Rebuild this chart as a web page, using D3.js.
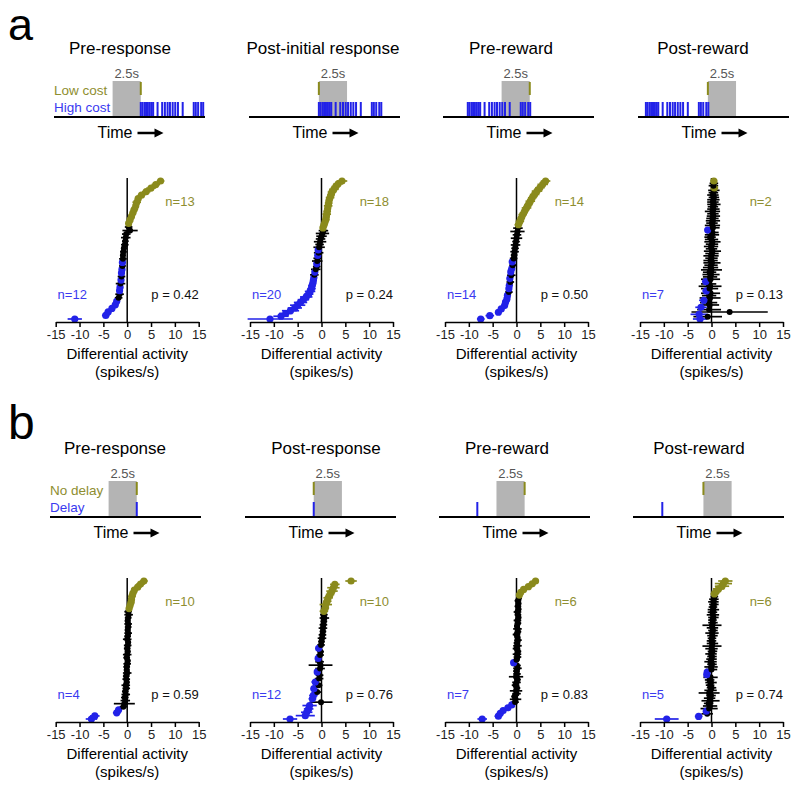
<!DOCTYPE html>
<html>
<head>
<meta charset="utf-8">
<script src="https://cdn.jsdelivr.net/npm/d3@7"></script>
<style>
  body { margin: 0; background: #fff; }
  svg { font-family: Arial, "Liberation Sans", sans-serif; }
</style>
</head>
<body>
<svg></svg>
<script>
var width = 800;
var height = 787;

var svg = d3.select('svg')
    .attr('width', width)
    .attr('height', height);

var OLIVE = '#8a8a1c';
var BLUE = '#2222e8';
var colorOf = { o: OLIVE, b: BLUE, k: '#000' };
var textColorOf = { o: '#8e8e30', b: '#3a3af0' };

// ---- data ----
var tickVals = [-15, -10, -5, 0, 5, 10, 15];
var tickLabels = ['-15', '-10', '-5', '0', '5', '10', '15'];

var titlesA = ['Pre-response', 'Post-initial response', 'Pre-reward', 'Post-reward'];
var titlesB = ['Pre-response', 'Post-response', 'Pre-reward', 'Post-reward'];
var legendA = ['Low cost', 'High cost'];
var legendB = ['No delay', 'Delay'];

var nOliveA = [13, 18, 14, 2];
var nBlueA = [12, 20, 14, 7];
var pA = ['0.42', '0.24', '0.50', '0.13'];
var nOliveB = [10, 10, 6, 6];
var nBlueB = [4, 12, 7, 5];
var pB = ['0.59', '0.76', '0.83', '0.74'];

// schematic timing (seconds), 2.5 s window before ('pre') or after ('post') the event
var epochSide = ['pre', 'post', 'pre', 'post'];
var eventA = [7.7, 6.2, 7.7, 6.2];
var trainStartA = [7.7, 6.2, 2.2, 0.7];
var spikePattern = [0, 0.15, 0.33, 0.47, 0.63, 0.8, 0.96, 1.1, 1.49, 1.9, 2.14, 2.38,
    2.59, 2.83, 3.06, 3.3, 3.72, 4.7, 4.88, 5.09, 5.36, 5.54];
var eventB = [7.7, 6.1, 7.6, 6.25];
var delaySpikeB = [7.7, 6.1, 3.4, 2.6];

// ranked neurons, bottom to top: value, error, class runs (b = blue, o = olive, k = n.s.)
var a1Vals = [-11, -4.5, -4.0, -3.2, -2.5, -2.2, -1.8, -1.6, -1.6, -1.5, -1.4, -1.3, -1.2, -1.2,
    -1.1, -1.0, -1.0, -0.9, -0.9, -0.8, -0.7, -0.5, -0.4, -0.3, -0.2, 0.6, 0.3,
    0.3, 0.6, 0.9, 1.2, 1.5, 1.8, 2.0, 2.3, 3.0, 4.0, 5.0, 6.0, 7.0];
var a1Err = [1.5, 0.8, 0.7, 0.6, 0.6, 0.5, 0.8, 0.9, 0.5, 0.5, 1.0, 0.5, 0.8, 0.5,
    0.4, 0.7, 0.4, 0.8, 0.6, 0.7, 0.6, 0.8, 0.7, 1.0, 0.9, 1.6, 0.8,
    0.5, 0.5, 0.6, 0.7, 0.8, 0.6, 0.9, 0.7, 0.8, 0.9, 1.0, 0.9, 0.8];
var a1Runs = [['b', 6], ['k', 2], ['b', 2], ['k', 1], ['b', 1], ['k', 1], ['b', 2], ['k', 1], ['b', 1],
    ['k', 10], ['o', 13]];

var a2Vals = [-10.8, -8.5, -7.5, -6.5, -5.6, -5.0, -4.4, -3.8, -3.2, -2.7, -2.4, -2.1, -2.0, -1.8, -1.7, -1.6,
    -1.5, -1.4, -1.2, -1.0, -1.0, -0.9, -0.8, -0.8, -0.6, -0.7, -0.5, -0.4, -0.3, -0.2, 0, 0.2, 0.4,
    0.3, 0.5, 0.7, 0.9, 1.0, 1.1, 1.2, 1.3, 1.4, 1.5, 1.6, 1.8, 2.0, 2.2, 2.6, 3.0, 3.5, 4.3];
var a2Err = [4.8, 1.6, 1.4, 1.8, 1.5, 1.6, 1.4, 1.2, 1.3, 1.0, 1.1, 0.9, 0.8, 0.7, 0.6, 0.6,
    0.9, 0.5, 1.0, 0.8, 0.5, 1.1, 0.9, 0.5, 1.0, 0.4, 1.2, 0.9, 1.3, 1.0, 1.1, 1.4, 1.0,
    0.6, 0.7, 0.6, 0.8, 0.7, 0.9, 0.8, 0.7, 0.9, 0.8, 0.7, 0.9, 0.8, 0.9, 1.0, 0.9, 1.0, 1.1];
var a2Runs = [['b', 16], ['k', 1], ['b', 1], ['k', 2], ['b', 1], ['k', 2], ['b', 1], ['k', 1], ['b', 1],
    ['k', 7], ['o', 18]];

var a3Vals = [-7.5, -5.6, -3.8, -3.2, -2.5, -2.3, -2.0, -1.9, -1.6, -1.6, -1.5, -1.3, -1.4, -1.1,
    -1.2, -1.0, -0.8, -0.9, -0.6, -0.5, -0.4, -0.3, -0.2, -0.1, 0, 0.1, 0.2, 0.3,
    0.4, 0.7, 1.0, 1.3, 1.7, 2.1, 2.5, 2.9, 3.3, 3.8, 4.3, 4.9, 5.5, 6.1];
var a3Err = [0.8, 0.9, 0.7, 0.6, 0.6, 0.5, 0.6, 0.5, 0.8, 0.5, 0.5, 0.8, 0.4, 0.9,
    0.5, 0.4, 0.7, 0.4, 0.8, 0.7, 0.9, 0.8, 1.0, 0.8, 1.2, 0.9, 1.5, 1.0,
    0.8, 0.9, 0.8, 0.9, 0.8, 1.0, 0.9, 1.0, 0.9, 1.0, 1.1, 1.0, 1.1, 1.0];
var a3Runs = [['b', 8], ['k', 1], ['b', 2], ['k', 1], ['b', 1], ['k', 1], ['b', 2], ['k', 1], ['b', 1],
    ['k', 10], ['o', 14]];

var a4Vals = [-2.4, -0.8, -2.6, 3.8, -0.5, -2.2, -0.4, -0.6, -1.6, -0.3, -0.5, -0.2, -1.1, -0.4,
    -0.3, -0.6, -1.2, -0.2, -0.3, -0.1, -0.4, 0, -0.2, -0.1, 0.1, -0.2, 0, -0.1,
    0.1, 0.2, 0, -0.1, 0.1, 0.2, 0, -0.3, 0.1, 0.2, -0.8, 0.3, 0.2, 0.1,
    0.3, 0.2, 0.4, 0.3, 0.2, 0.4, 0.3, 0.5, 0.3, 0.4, 0.5, 0.3, 0.4, 0.5,
    0.6, 0.4, 0.5, 0.5];
var a4Err = [1.5, 3.0, 1.8, 8.0, 2.5, 1.2, 2.0, 1.8, 1.0, 2.2, 1.5, 2.0, 0.8, 1.8,
    2.4, 1.6, 0.8, 2.0, 1.5, 1.8, 1.4, 2.2, 1.6, 1.4, 1.8, 1.5, 1.3, 1.6,
    1.4, 1.8, 1.2, 1.5, 1.3, 1.7, 1.4, 1.2, 1.5, 1.3, 0.6, 1.4, 1.6, 1.2,
    1.5, 1.3, 1.4, 1.2, 1.6, 1.3, 1.1, 1.4, 1.2, 1.3, 1.1, 1.2, 1.0, 1.2,
    0.8, 1.0, 0.9, 0.7];
var a4Runs = [['b', 1], ['k', 1], ['b', 1], ['k', 2], ['b', 1], ['k', 2], ['b', 1], ['k', 3], ['b', 1],
    ['k', 3], ['b', 1], ['k', 21], ['b', 1], ['k', 17], ['o', 1], ['k', 2], ['o', 1]];

var b1Vals = [-7.5, -6.8, -2.2, -1.8,
    -0.8, -0.6, -0.4, -0.5, -0.3, -0.4, -0.2, -0.3, -0.1, -0.2, -0.2, 0, -0.1, -0.1, 0, 0.1,
    -0.1, 0, 0.1, 0, 0.1, 0.2, 0, 0.1, 0.2, 0.1, 0.2, 0.2, 0.1, 0.2, 0.3, 0.2,
    0.4, 0.6, 0.8, 0.9, 1.0, 1.2, 1.5, 2.2, 2.8, 3.5];
var b1Err = [1.2, 1.0, 0.8, 0.7,
    0.8, 2.2, 1.0, 0.8, 0.9, 0.7, 0.8, 0.9, 0.6, 0.8, 0.7, 0.9, 0.6, 0.7, 0.8, 0.6,
    0.7, 0.9, 0.6, 0.7, 0.8, 0.6, 0.9, 0.7, 0.8, 0.6, 0.7, 0.8, 0.6, 0.7, 0.9, 0.8,
    0.5, 0.6, 0.7, 0.6, 0.8, 0.7, 0.6, 0.8, 0.9, 0.8];
var b1Runs = [['b', 4], ['k', 32], ['o', 10]];

var b2Vals = [-6.6, -3.4, -3.1, -2.7, -2.5, -0.1, -1.9, -1.7, -0.9, -1.6, -0.6, -1.3, -0.5, -0.4,
    -0.9, -0.3, -0.2, -0.4, -0.7, -0.3, -0.2, -0.6, -0.1, 0, 0.1, 0.2, 0.3, 0.3,
    0.4, 0.5, 0.6, 0.5,
    0.5, 0.8, 0.9, 1.2, 1.4, 1.8, 2.2, 2.5, 2.8, 6.2];
var b2Err = [1.5, 2.0, 1.2, 1.0, 1.5, 2.4, 0.8, 0.9, 1.0, 0.7, 0.8, 0.8, 0.9, 0.8,
    0.6, 1.0, 2.5, 0.9, 0.6, 0.8, 0.7, 0.6, 0.8, 0.7, 0.9, 0.8, 0.7, 0.9,
    0.8, 0.7, 1.0, 0.8,
    0.9, 0.8, 1.3, 0.9, 1.0, 0.9, 1.2, 1.3, 1.0, 1.2];
var b2Runs = [['b', 5], ['k', 1], ['b', 2], ['k', 1], ['b', 1], ['k', 1], ['b', 1], ['k', 2], ['b', 1],
    ['k', 3], ['b', 1], ['k', 2], ['b', 1], ['k', 10], ['o', 10]];

var b3Vals = [-7.2, -3.8, -3.4, -2.8, -1.8, -1.0, -0.3, -0.2, -0.4, 0, -0.1, 0.1, -0.2, 0,
    0.2, -0.1, 0.1, 0, 0.2, 0.1, -0.6, 0, 0.2, 0.1, 0.3, 0, 0.2, 0.1,
    0.3, 0.2, 0, 0.3, 0.2, 0.1, 0.3, 0.2, 0.4, 0.3, 0.2, 0.4, 0.3, 0.4,
    0.3, 0.5, 0.6, 0.9, 1.5, 2.5, 3.3, 4.0];
var b3Err = [1.0, 0.8, 0.7, 0.6, 0.6, 0.5, 0.8, 1.2, 0.7, 0.9, 1.3, 0.7, 0.8, 0.9,
    0.7, 1.5, 0.8, 0.7, 0.9, 0.8, 0.5, 0.7, 0.8, 0.9, 0.7, 0.8, 0.9, 0.7,
    0.8, 0.6, 0.8, 0.7, 0.9, 0.6, 0.7, 0.8, 0.6, 0.7, 0.8, 0.6, 0.7, 0.6,
    0.7, 0.6, 0.5, 0.6, 0.7, 0.8, 0.7, 0.6];
var b3Runs = [['b', 6], ['k', 14], ['b', 1], ['k', 23], ['o', 6]];

var b4Vals = [-9.4, -2.7, -0.9, -1.1, -0.5, -0.3, -0.6, -0.2, -0.4, -0.1, -0.5, -0.2, 0, -0.3,
    -0.1, -0.4, -0.2, -1.0, -0.9, 0, -0.1, 0.1, -0.2, 0, 0.1, -0.1, 0.2, 0,
    0.1, 0.2, 0, 0.1, 0.2, 0.1, 0.3, 0.2, 0.1, 0.3, 0.2, 0.4, 0.3, 0.2,
    0.4, 0.3, 0.5, 0.4, 0.5, 0.6, 0.6, 1.0, 1.5, 2.2, 2.5, 2.9];
var b4Err = [2.5, 0.8, 1.2, 0.6, 1.8, 1.5, 1.0, 1.9, 1.2, 1.0, 2.2, 1.3, 1.0, 0.9,
    1.2, 1.0, 1.5, 0.5, 0.5, 1.2, 1.4, 1.0, 1.3, 1.1, 1.0, 1.2, 1.0, 1.3,
    2.0, 1.2, 1.0, 0.9, 1.1, 1.4, 1.0, 1.2, 2.0, 1.0, 0.9, 1.1, 1.3, 1.0,
    1.2, 0.9, 1.0, 1.1, 1.0, 0.8, 0.8, 1.0, 1.2, 1.5, 1.8, 1.5];
var b4Runs = [['b', 2], ['k', 1], ['b', 1], ['k', 13], ['b', 2], ['k', 29], ['o', 6]];

var rowA = [[a1Vals, a1Err, a1Runs], [a2Vals, a2Err, a2Runs], [a3Vals, a3Err, a3Runs], [a4Vals, a4Err, a4Runs]];
var rowB = [[b1Vals, b1Err, b1Runs], [b2Vals, b2Err, b2Runs], [b3Vals, b3Err, b3Runs], [b4Vals, b4Err, b4Runs]];

// ---- layout ----
var plotX = [55.7, 250, 445, 640];
var plotW = 143;
var schemLeftA = [54, 249, 443, 638];
var schemLeftB = [50, 245, 439, 633];
var titleXA = [120, 323, 511, 703];
var titleXB = [115, 326, 507, 699];
var schemW = 151;

function expandRuns(runs) {
    var out = [];
    runs.forEach(function(r) { for (var i = 0; i < r[1]; i++) out.push(r[0]); });
    return out;
}

// panel letters
svg.append('text').attr('x', 8).attr('y', 40).attr('font-size', 45).text('a');
svg.append('text').attr('x', 8).attr('y', 439).attr('font-size', 48).text('b');

function drawSchematic(col, yOff, left, titleX, title, legend, isA) {
    var g = svg.append('g').attr('transform', 'translate(0,' + yOff + ')');
    var t = d3.scaleLinear().domain([0, 13.4]).range([left, left + schemW]);
    var ev = isA ? eventA[col] : eventB[col];
    var boxStart = epochSide[col] === 'pre' ? ev - 2.5 : ev;

    g.append('text').attr('x', titleX).attr('y', 54)
        .attr('text-anchor', 'middle').attr('font-size', 17).text(title);

    g.append('rect').attr('x', t(boxStart)).attr('y', 81)
        .attr('width', t(boxStart + 2.5) - t(boxStart)).attr('height', 36)
        .attr('fill', '#b4b4b4');
    g.append('text').attr('x', (t(boxStart) + t(boxStart + 2.5)) / 2).attr('y', 78)
        .attr('text-anchor', 'middle').attr('font-size', 13).attr('fill', '#555').text('2.5s');

    // olive event tick
    g.append('line').attr('x1', t(ev)).attr('x2', t(ev)).attr('y1', 82).attr('y2', 95)
        .attr('stroke', OLIVE).attr('stroke-width', 2);

    // blue spikes
    var spikes = isA ? spikePattern.map(function(s) { return trainStartA[col] + s; }) : [delaySpikeB[col]];
    g.selectAll('line.spk').data(spikes).enter().append('line')
        .attr('class', 'spk')
        .attr('x1', function(d) { return t(d); })
        .attr('x2', function(d) { return t(d); })
        .attr('y1', 102).attr('y2', 117)
        .attr('stroke', BLUE).attr('stroke-width', 2);

    g.append('line').attr('x1', left).attr('x2', left + schemW).attr('y1', 117).attr('y2', 117)
        .attr('stroke', '#000').attr('stroke-width', 2);

    if (col === 0) {
        g.append('text').attr('x', left).attr('y', 95).attr('font-size', 13.5)
            .attr('fill', textColorOf.o).text(legend[0]);
        g.append('text').attr('x', left).attr('y', 112).attr('font-size', 13.5)
            .attr('fill', textColorOf.b).text(legend[1]);
    }

    var cx = left + schemW / 2;
    g.append('text').attr('x', cx + 3).attr('y', 138).attr('text-anchor', 'end')
        .attr('font-size', 16).text('Time');
    g.append('line').attr('x1', cx + 8).attr('x2', cx + 27).attr('y1', 133).attr('y2', 133)
        .attr('stroke', '#000').attr('stroke-width', 2.5);
    g.append('path').attr('d', 'M' + (cx + 34) + ',133 L' + (cx + 25) + ',128.5 L' + (cx + 25) + ',137.5 Z')
        .attr('fill', '#000');
}

function drawScatter(col, base, series, nO, nB, p) {
    var vals = series[0], errs = series[1], cls = expandRuns(series[2]);
    var x = d3.scaleLinear().domain([-15, 15]).range([plotX[col], plotX[col] + plotW]);
    var y = d3.scaleLinear().domain([0, vals.length - 1]).range([base - 3, base - 141]);
    var g = svg.append('g');

    g.append('line').attr('x1', x(0)).attr('x2', x(0))
        .attr('y1', base - 144).attr('y2', base)
        .attr('stroke', '#000').attr('stroke-width', 1.5);

    var pts = vals.map(function(v, i) { return { v: v, e: errs[i], c: cls[i], i: i }; });

    g.selectAll('line.err').data(pts).enter().append('line')
        .attr('class', 'err')
        .attr('x1', function(d) { return x(Math.max(-15.5, d.v - d.e)); })
        .attr('x2', function(d) { return x(d.v + d.e); })
        .attr('y1', function(d) { return y(d.i); })
        .attr('y2', function(d) { return y(d.i); })
        .attr('stroke', function(d) { return colorOf[d.c]; })
        .attr('stroke-width', 1.7);

    g.selectAll('circle').data(pts).enter().append('circle')
        .attr('cx', function(d) { return x(d.v); })
        .attr('cy', function(d) { return y(d.i); })
        .attr('r', function(d) { return d.c === 'k' ? 3 : 3.6; })
        .attr('fill', function(d) { return colorOf[d.c]; });

    var ax = g.append('g').attr('transform', 'translate(0,' + base + ')')
        .call(d3.axisBottom(x).tickValues(tickVals)
            .tickFormat(function(d, i) { return tickLabels[i]; })
            .tickSize(5).tickSizeOuter(0));
    ax.attr('font-family', null).attr('font-size', 13);
    ax.select('.domain').attr('stroke-width', 1.5);
    ax.selectAll('.tick line').attr('stroke-width', 1.5);
    ax.selectAll('.tick text').attr('fill', '#222');

    var xc = x(0);
    g.append('text').attr('x', xc).attr('y', base + 37).attr('text-anchor', 'middle')
        .attr('font-size', 15).text('Differential activity');
    g.append('text').attr('x', xc).attr('y', base + 55).attr('text-anchor', 'middle')
        .attr('font-size', 15).text('(spikes/s)');

    g.append('text').attr('x', x(8)).attr('y', base - 116).attr('font-size', 13)
        .attr('fill', textColorOf.o).text('n=' + nO);
    g.append('text').attr('x', x(-14.6)).attr('y', base - 23).attr('font-size', 13)
        .attr('fill', textColorOf.b).text('n=' + nB);
    g.append('text').attr('x', x(15)).attr('y', base - 23).attr('font-size', 13)
        .attr('text-anchor', 'end').attr('fill', '#111').text('p = ' + p);
}

for (var c = 0; c < 4; c++) {
    drawSchematic(c, 0, schemLeftA[c], titleXA[c], titlesA[c], legendA, true);
    drawSchematic(c, 400, schemLeftB[c], titleXB[c], titlesB[c], legendB, false);
    drawScatter(c, 322, rowA[c], nOliveA[c], nBlueA[c], pA[c]);
    drawScatter(c, 722, rowB[c], nOliveB[c], nBlueB[c], pB[c]);
}
</script>
</body>
</html>
